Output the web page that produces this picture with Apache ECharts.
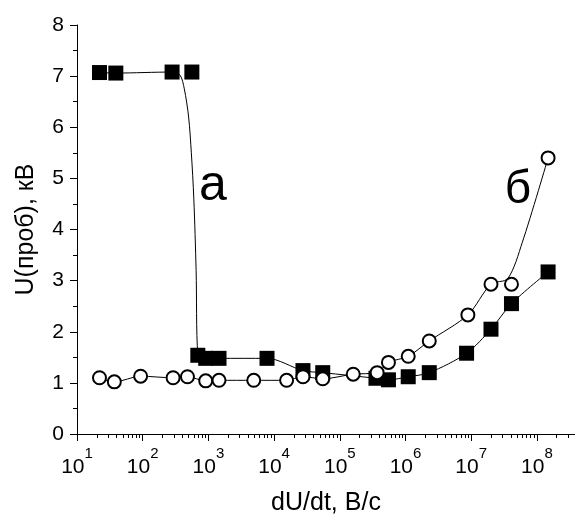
<!DOCTYPE html>
<html>

<head>
    <meta charset="UTF-8">
    <script src="https://cdn.jsdelivr.net/npm/echarts@6.0.0/dist/echarts.min.js"></script>
    <style>
        html, body { margin: 0; padding: 0; background: #fff; }
    </style>
</head>

<body>
    <div id="main" style="width: 575px; height: 522px;"></div>
    <script>
        // точки (dU/dt, U)
        var squaresA = [
            [22, 7.07], [39, 7.06], [280, 7.08], [560, 7.08],
            [690, 1.54], [910, 1.48], [1450, 1.48], [7800, 1.48],
            [27500, 1.24], [55000, 1.2], [355000, 1.09], [550000, 1.06],
            [1.1e6, 1.12], [2.3e6, 1.2], [8.5e6, 1.58], [2e7, 2.05],
            [4.1e7, 2.55], [1.48e8, 3.17]
        ];
        var circlesB = [
            [22, 1.1], [37, 1.02], [93, 1.13], [290, 1.1], [480, 1.12],
            [910, 1.04], [1450, 1.05], [4900, 1.05], [15500, 1.05],
            [27500, 1.12], [55000, 1.08], [160000, 1.17], [370000, 1.2],
            [550000, 1.4], [1.1e6, 1.52], [2.3e6, 1.82], [8.9e6, 2.33],
            [2e7, 2.93], [4.1e7, 2.93], [1.48e8, 5.4]
        ];
        // линии проведены от руки, не строго по точкам
        var curveA = [
            [22, 7.07], [39, 7.06], [280, 7.08], [370, 7.02], [430, 6.75],
            [500, 6.2], [550, 5.5], [600, 4.6], [650, 3.2], [690, 1.54],
            [910, 1.48], [1450, 1.48], [7800, 1.48], [27500, 1.24],
            [55000, 1.2], [355000, 1.09], [550000, 1.06], [1.1e6, 1.12],
            [2.3e6, 1.2], [8.5e6, 1.58], [2e7, 2.05], [4.1e7, 2.55],
            [1.48e8, 3.17]
        ];
        var curveB = [
            [22, 1.1], [37, 1.02], [93, 1.13], [290, 1.1], [480, 1.12],
            [910, 1.04], [1450, 1.05], [4900, 1.05], [15500, 1.05],
            [27500, 1.12], [55000, 1.08], [160000, 1.17], [370000, 1.2],
            [550000, 1.4], [1.1e6, 1.52], [2.3e6, 1.82], [8.9e6, 2.33],
            [2e7, 2.93], [3.6e7, 3.04], [6e7, 3.75], [1.48e8, 5.4]
        ];
        var majorTicks = [10, 1e2, 1e3, 1e4, 1e5, 1e6, 1e7, 1e8];
        var xMax = 3.8e8;

        var minorTicks = [];
        for (var d = 1; d <= 8; d++) {
            for (var k = 2; k <= 9; k++) {
                var v = k * Math.pow(10, d);
                if (v <= xMax) minorTicks.push(v);
            }
        }

        var font = 'Liberation Sans, Arial, sans-serif';
        var black = '#000';

        var myChart = echarts.init(document.getElementById('main'), null, { renderer: 'canvas' });
        var option = {
            animation: false,
            backgroundColor: '#fff',
            grid: {
                left: 77,
                top: 25,
                right: 0,
                bottom: 88,
                outerBoundsMode: 'none'
            },
            xAxis: [
                {
                    type: 'log',
                    logBase: 10,
                    min: 10,
                    max: xMax,
                    position: 'bottom',
                    name: 'dU/dt, B/c',
                    nameLocation: 'middle',
                    nameGap: 57,
                    nameTextStyle: { fontFamily: font, fontSize: 25, color: black },
                    axisLine: { lineStyle: { color: black, width: 1 } },
                    axisTick: { length: 7, customValues: majorTicks, lineStyle: { color: black, width: 1 } },
                    axisLabel: {
                        customValues: majorTicks,
                        margin: 12,
                        formatter: function (val) {
                            return '{a|10}{b|' + Math.round(Math.log10(val)) + '}';
                        },
                        rich: {
                            a: { fontFamily: font, fontSize: 21, color: black, lineHeight: 32, verticalAlign: 'bottom' },
                            b: { fontFamily: font, fontSize: 15, color: black, lineHeight: 15, verticalAlign: 'top' }
                        }
                    },
                    splitLine: { show: false }
                },
                {
                    type: 'log',
                    logBase: 10,
                    min: 10,
                    max: xMax,
                    position: 'bottom',
                    axisLine: { show: false },
                    axisTick: { length: 4, customValues: minorTicks, lineStyle: { color: black, width: 1 } },
                    axisLabel: { show: false },
                    splitLine: { show: false }
                }
            ],
            yAxis: {
                type: 'value',
                min: 0,
                max: 8,
                interval: 1,
                name: 'U(проб), кВ',
                nameLocation: 'middle',
                nameGap: 38,
                nameTextStyle: { fontFamily: font, fontSize: 25, color: black },
                axisLine: { show: true, lineStyle: { color: black, width: 1 } },
                axisTick: { show: true, length: 7, lineStyle: { color: black, width: 1 } },
                minorTick: { show: true, splitNumber: 2, length: 4, lineStyle: { color: black, width: 1 } },
                axisLabel: { fontFamily: font, fontSize: 21, color: black, margin: 13 },
                splitLine: { show: false }
            },
            graphic: [
                {
                    type: 'text', x: 213, y: 186,
                    style: { text: 'а', fontFamily: font, fontSize: 50, fill: black, align: 'center', verticalAlign: 'middle' }
                },
                {
                    type: 'text', x: 518, y: 190,
                    style: { text: 'б', fontFamily: font, fontSize: 46, fill: black, align: 'center', verticalAlign: 'middle' }
                }
            ],
            series: [
                {
                    type: 'line',
                    data: curveA,
                    symbol: 'none',
                    smooth: 0.3,
                    lineStyle: { color: black, width: 1 },
                    z: 1
                },
                {
                    type: 'line',
                    data: curveB,
                    symbol: 'none',
                    smooth: 0.3,
                    lineStyle: { color: black, width: 1 },
                    z: 1
                },
                {
                    type: 'scatter',
                    data: squaresA,
                    symbol: 'rect',
                    symbolSize: 15,
                    itemStyle: { color: black, opacity: 1 },
                    z: 2
                },
                {
                    type: 'scatter',
                    data: circlesB,
                    symbol: 'circle',
                    symbolSize: 13,
                    itemStyle: { color: '#fff', borderColor: black, borderWidth: 2, opacity: 1 },
                    z: 3
                }
            ]
        };

        option && myChart.setOption(option);
    </script>
</body>

</html>
